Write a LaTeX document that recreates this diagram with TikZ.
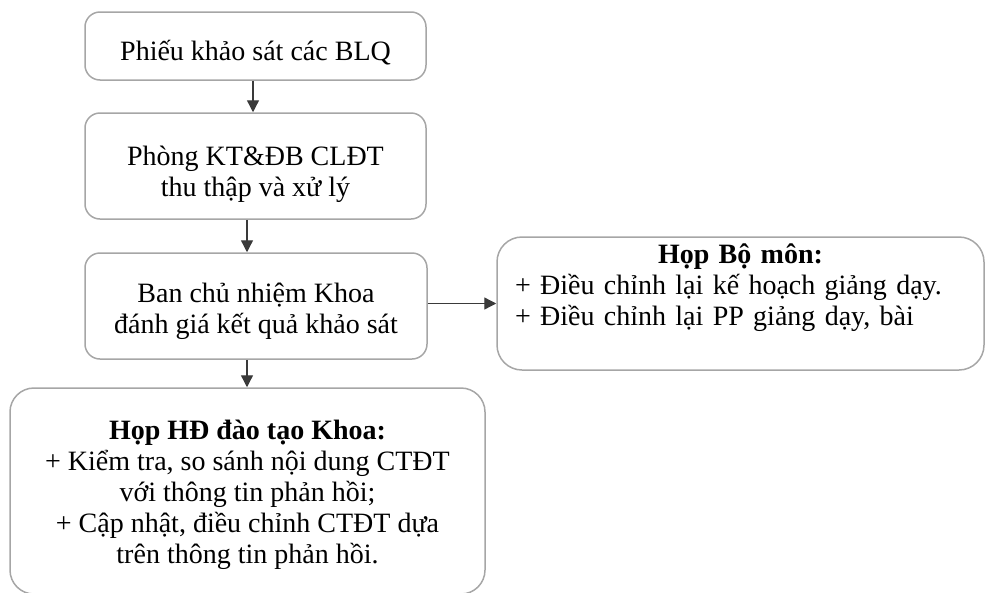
\documentclass[tikz,border=0pt]{standalone}
\usepackage{fontspec}
\setmainfont{Liberation Serif}
\usetikzlibrary{arrows.meta}
\definecolor{boxgray}{HTML}{A6A6A6}
\definecolor{arrgray}{HTML}{3A3A3A}
\newcommand{\firstup}[1]{\rule{0pt}{#1}}
\begin{document}
\begin{tikzpicture}[x=1pt,y=-1pt,
  box/.style={draw=boxgray, line width=1.5pt, rounded corners=15pt, align=center,
    font=\fontsize{28}{31}\selectfont, inner sep=0pt, text=black},
  arr/.style={draw=arrgray, line width=1.3pt, -{Triangle[length=12pt,width=12pt]}}]
\useasboundingbox (0,0) rectangle (985,592);
\node[box, minimum width=341pt, minimum height=68pt, text height=34pt, text depth=6pt] (b1) at (255.5,46) {Phiếu khảo sát các BLQ};
\node[box, minimum width=341pt, minimum height=106pt] (b2) at (255.5,166) {\firstup{36pt}Phòng KT\&ĐB CLĐT\\thu thập và xử lý};
\node[box, minimum width=342pt, minimum height=106pt] (b3) at (256,306) {\firstup{30pt}Ban chủ nhiệm Khoa\\đánh giá kết quả khảo sát};
\node[box, rounded corners=25pt, minimum width=487pt, minimum height=133pt, text width=451pt, inner xsep=18pt, align=left, text depth=100pt] (b4) at (740.5,303.5)
  {{\centering\textbf{Họp Bộ môn:}\par}\raggedright + Điều chỉnh lại kế hoạch giảng dạy.\par + Điều chỉnh lại PP giảng dạy, bài};
\node[box, rounded corners=24pt, minimum width=475pt, minimum height=206pt] (b5) at (247.5,491)
  {\firstup{28pt}\textbf{Họp HĐ đào tạo Khoa:}\\+ Kiểm tra, so sánh nội dung CTĐT\\với thông tin phản hồi;\\+ Cập nhật, điều chỉnh CTĐT dựa\\trên thông tin phản hồi.};
\draw[arr] ([xshift=-2.5pt]b1.south) -- ([xshift=-2.5pt]b2.north);
\draw[arr] ([xshift=-8.5pt]b2.south) -- ([xshift=-9pt]b3.north);
\draw[arr] ([xshift=-9pt]b3.south) -- ([xshift=-0.5pt]b5.north);
\draw[arr] (b4.west -| b3.east) -- (b4.west);
\end{tikzpicture}
\end{document}
